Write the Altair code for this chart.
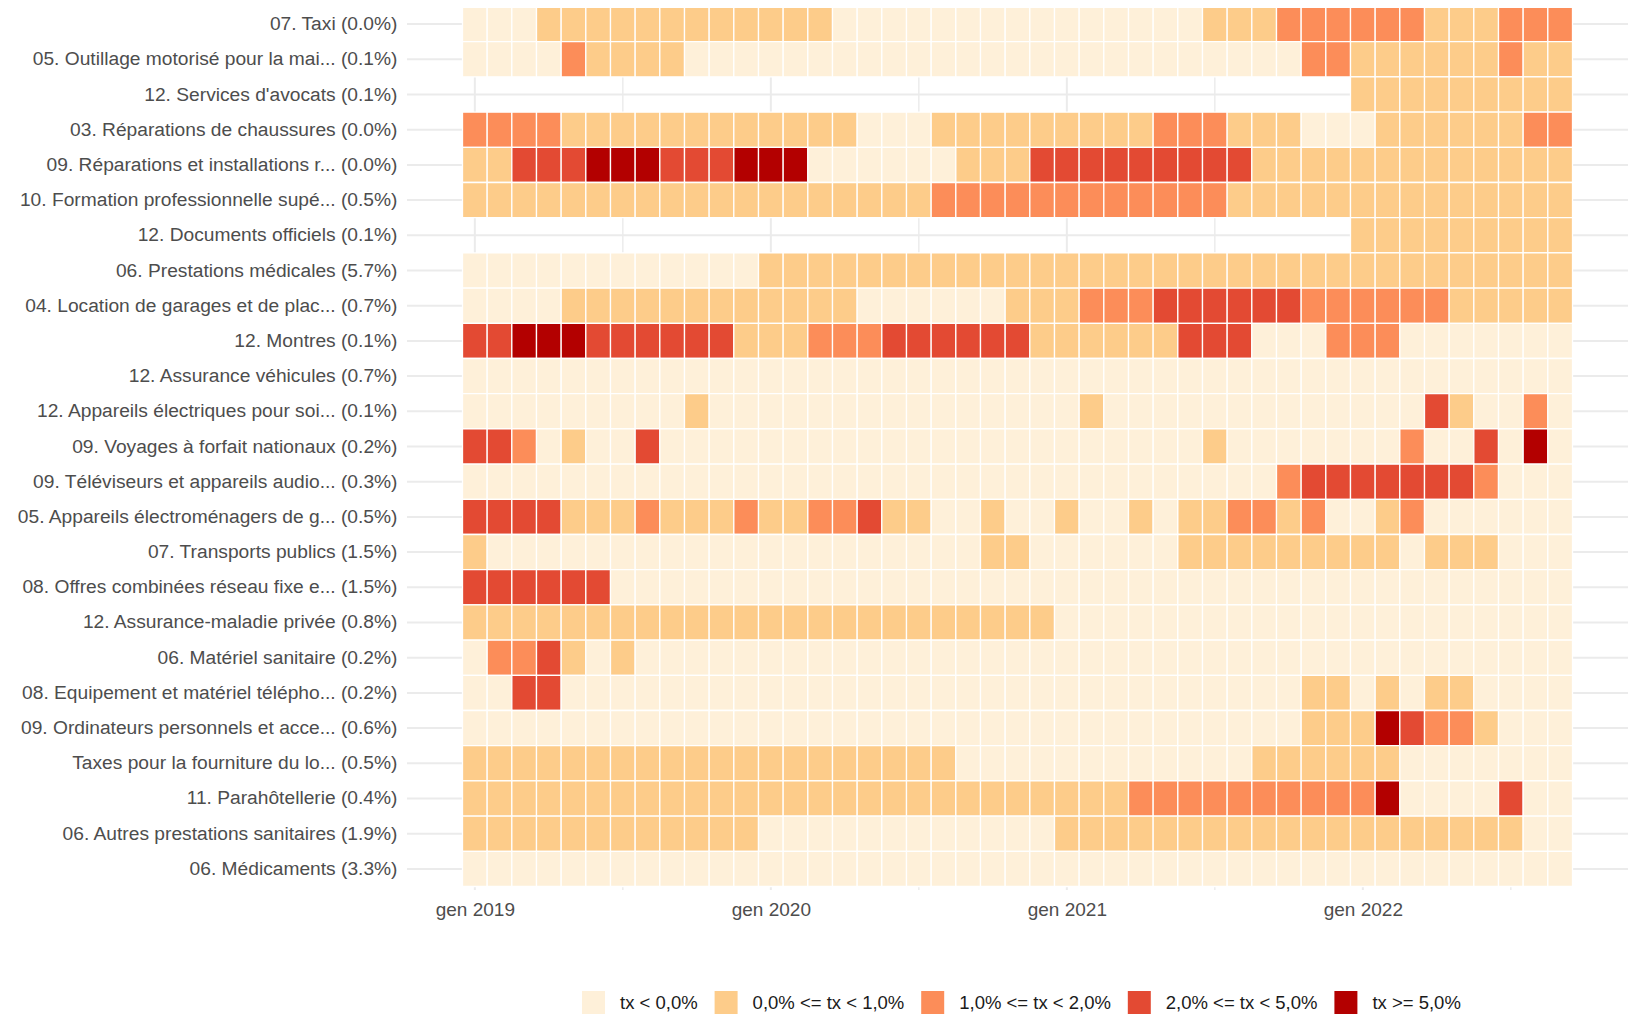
import json
import altair as alt
import pandas as pd

FONT = "Liberation Sans, Arial, sans-serif"

categories = [
    "07. Taxi (0.0%)",
    "05. Outillage motorisé pour la mai... (0.1%)",
    "12. Services d'avocats (0.1%)",
    "03. Réparations de chaussures (0.0%)",
    "09. Réparations et installations r... (0.0%)",
    "10. Formation professionnelle supé... (0.5%)",
    "12. Documents officiels (0.1%)",
    "06. Prestations médicales (5.7%)",
    "04. Location de garages et de plac... (0.7%)",
    "12. Montres (0.1%)",
    "12. Assurance véhicules (0.7%)",
    "12. Appareils électriques pour soi... (0.1%)",
    "09. Voyages à forfait nationaux (0.2%)",
    "09. Téléviseurs et appareils audio... (0.3%)",
    "05. Appareils électroménagers de g... (0.5%)",
    "07. Transports publics (1.5%)",
    "08. Offres combinées réseau fixe e... (1.5%)",
    "12. Assurance-maladie privée (0.8%)",
    "06. Matériel sanitaire (0.2%)",
    "08. Equipement et matériel télépho... (0.2%)",
    "09. Ordinateurs personnels et acce... (0.6%)",
    "Taxes pour la fourniture du lo... (0.5%)",
    "11. Parahôtellerie (0.4%)",
    "06. Autres prestations sanitaires (1.9%)",
    "06. Médicaments (3.3%)",
]

# class code per month (Jan 2019 .. Sep 2022), groups of 5 months; "." = no data
# 0: tx<0, 1: 0-1%, 2: 1-2%, 3: 2-5%, 4: >=5%
row_codes = [
    "00011 11111 11111 00000 00000 00000 11122 22221 11222",
    "00002 11110 00000 00000 00000 00000 00002 21111 11211",
    "..... ..... ..... ..... ..... ..... ..... .1111 11111",
    "22221 11111 11111 10001 11111 11122 21110 00111 11122",
    "11333 44433 34440 00000 11133 33333 33111 11111 11111",
    "11111 11111 11111 11112 22222 22222 21111 11111 11111",
    "..... ..... ..... ..... ..... ..... ..... .1111 11111",
    "00000 00000 00111 11111 11111 11111 11111 11111 11111",
    "00001 11111 11111 10000 00111 22233 33332 22222 11111",
    "33444 33333 31112 22333 33311 11113 33000 22200 00000",
    "00000 00000 00000 00000 00000 00000 00000 00000 00000",
    "00000 00001 00000 00000 00000 10000 00000 00003 10020",
    "33201 00300 00000 00000 00000 00000 10000 00020 03040",
    "00000 00000 00000 00000 00000 00000 00023 33333 32000",
    "33331 11211 12112 23110 01001 00101 12212 00120 00000",
    "10000 00000 00000 00000 01100 00001 11111 11101 11000",
    "33333 30000 00000 00000 00000 00000 00000 00000 00000",
    "11111 11111 11111 11111 11110 00000 00000 00000 00000",
    "02231 01000 00000 00000 00000 00000 00000 00000 00000",
    "00330 00000 00000 00000 00000 00000 00001 10101 10000",
    "00000 00000 00000 00000 00000 00000 00001 11432 21000",
    "11111 11111 11111 11111 00000 00000 00111 11100 00000",
    "11111 11111 11111 11111 11111 11222 22222 22400 00300",
    "11111 11111 11000 00000 00001 11111 11111 11111 11100",
    "00000 00000 00000 00000 00000 00000 00000 00000 00000",
]

class_labels = ["tx < 0,0%", "0,0% <= tx < 1,0%", "1,0% <= tx < 2,0%",
                "2,0% <= tx < 5,0%", "tx >= 5,0%"]
class_colors = ["#FEF0D9", "#FDCC8A", "#FC8D59", "#E34A33", "#B30000"]

tick_months = [0, 12, 24, 36]
tick_labels = ["gen 2019", "gen 2020", "gen 2021", "gen 2022"]
grid_months = [0, 6, 12, 18, 24, 30, 36, 42]
grid_widths = [2, 1.4, 2, 1.4, 2, 1.4, 2, 1.4]

records = []
for cat, code in zip(categories, row_codes):
    code = code.replace(" ", "")
    assert len(code) == 45, (cat, len(code))
    for i, ch in enumerate(code):
        if ch == ".":
            continue
        records.append({"cat": cat, "m": i, "cls": class_labels[int(ch)]})
df = pd.DataFrame(records)

xscale = alt.Scale(domain=[-2.75, 46.75], nice=False, zero=False)
yscale = alt.Scale(domain=categories, paddingInner=0, paddingOuter=0.1)

label_expr = json.dumps(tick_labels) + "[round(datum.value / 12)]"

xaxis = alt.Axis(title=None, values=tick_months, labelExpr=label_expr,
                 domain=False, ticks=False, tickSize=0, grid=False,
                 labelPadding=10, labelFont=FONT, labelFontSize=19,
                 labelColor="#4D4D4D", labelFlush=False, labelOverlap=False)
yaxis = alt.Axis(title=None, domain=False, ticks=False, tickSize=0, grid=False,
                 labelPadding=10, labelFont=FONT, labelFontSize=19.2,
                 labelColor="#4D4D4D", labelLimit=1000)

vgrid = alt.Chart(pd.DataFrame({"m": grid_months, "w": grid_widths})).mark_rule(
    color="#EBEBEB"
).encode(
    x=alt.X("m:Q", scale=xscale, axis=xaxis),
    strokeWidth=alt.StrokeWidth("w:Q", scale=None, legend=None),
)

hgrid = alt.Chart(pd.DataFrame({"cat": categories})).mark_rule(
    color="#EBEBEB", strokeWidth=2
).encode(
    y=alt.Y("cat:N", scale=yscale, sort=categories, axis=yaxis),
)

tiles = alt.Chart(df).transform_calculate(
    x0="datum.m - 0.5", x1="datum.m + 0.5"
).mark_rect(stroke="white", strokeWidth=1.3, opacity=1).encode(
    x=alt.X("x0:Q", scale=xscale, axis=xaxis),
    x2="x1:Q",
    y=alt.Y("cat:N", scale=yscale, sort=categories, axis=yaxis),
    color=alt.Color(
        "cls:N",
        scale=alt.Scale(domain=class_labels, range=class_colors),
        legend=alt.Legend(orient="none", legendX=175, legendY=988,
                          direction="horizontal", columns=5, title=None,
                          symbolType="square", symbolSize=529,
                          symbolStrokeWidth=0, symbolOpacity=1,
                          labelFont=FONT, labelFontSize=18.5,
                          labelColor="#1A1A1A", labelOffset=15,
                          columnPadding=16.6, padding=0, labelLimit=1000),
    ),
)

chart = alt.layer(vgrid, hgrid, tiles).properties(
    width=1221,
    height=887,
    autosize=alt.AutoSizeParams(type="none"),
    padding={"left": 399, "top": -5, "right": 0, "bottom": 124},
).configure_view(stroke=None)

chart.save("out.html", embed_options={"renderer": "svg", "actions": False})
